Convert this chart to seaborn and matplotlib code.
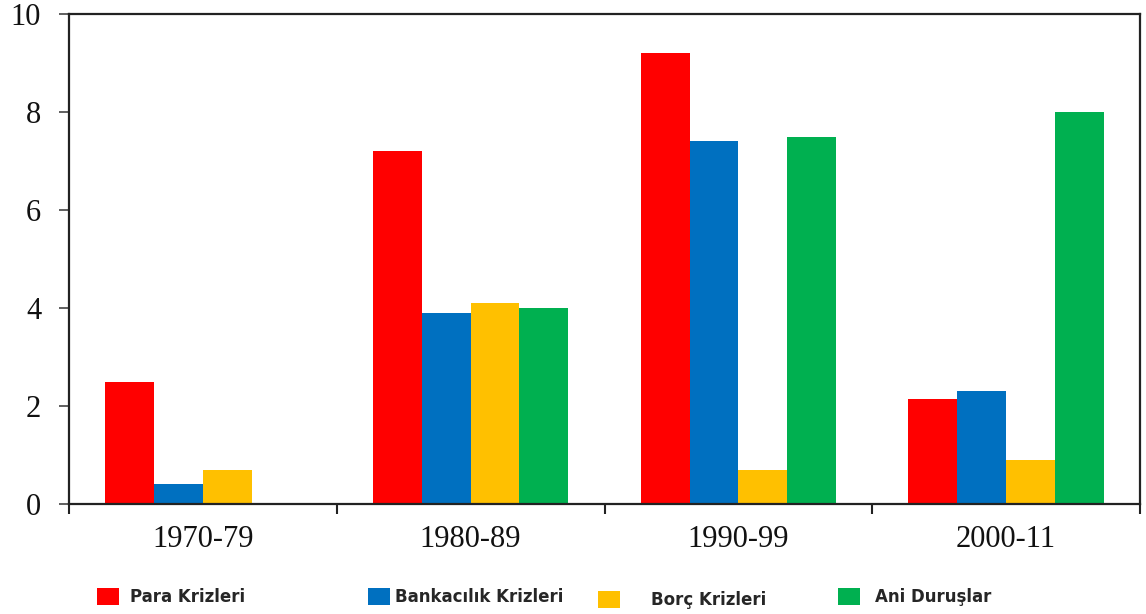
import matplotlib
matplotlib.use("Agg")
import matplotlib.pyplot as plt
from matplotlib.patches import Patch
from matplotlib.ticker import FixedLocator
import seaborn as sns
import pandas as pd

# Crisis frequency by decade
periods = ["1970-79", "1980-89", "1990-99", "2000-11"]
series_names = ["Para Krizleri", "Bankacılık Krizleri", "Borç Krizleri", "Ani Duruşlar"]
para = [2.5, 7.2, 9.2, 2.15]
bankacilik = [0.4, 3.9, 7.4, 2.3]
borc = [0.7, 4.1, 0.7, 0.9]
ani = [0.0, 4.0, 7.5, 8.0]
colors = ["#FF0000", "#0070C0", "#FFC000", "#00B050"]
y_ticks = [0, 2, 4, 6, 8, 10]

rows = []
for name, vals in zip(series_names, [para, bankacilik, borc, ani]):
    for p, v in zip(periods, vals):
        rows.append({"period": p, "kind": name, "value": v})
df = pd.DataFrame(rows)

sns.set_theme(style="white")
plt.rcParams["font.family"] = ["Liberation Serif", "DejaVu Serif"]

fig = plt.figure(figsize=(11.46, 6.14), dpi=100)
ax = fig.add_axes([69 / 1146, 110 / 614, (1140 - 69) / 1146, (504 - 14) / 614])

sns.barplot(data=df, x="period", y="value", hue="kind", order=periods,
            hue_order=series_names, palette=colors, width=0.73,
            saturation=1, linewidth=0, legend=False, ax=ax)

ax.set_xlim(-0.5, len(periods) - 0.5)
ax.set_ylim(0, 10)
ax.set_yticks(y_ticks)
ax.set_yticklabels([str(t) for t in y_ticks])
ax.set_xlabel("")
ax.set_ylabel("")

# Category separators as minor ticks on the x axis
ax.xaxis.set_minor_locator(FixedLocator([i - 0.5 for i in range(len(periods) + 1)]))
ax.tick_params(axis="x", which="major", length=0, pad=15, labelsize=22, colors="#111111")
ax.tick_params(axis="x", which="minor", bottom=True, length=7, width=1.5,
               direction="out", color="#222222")
ax.tick_params(axis="y", which="major", left=True, length=7, width=1.2,
               direction="out", pad=13, labelsize=22, colors="#111111")
ax.tick_params(axis="y", color="#444444")

for side, spine in ax.spines.items():
    spine.set_visible(True)
    spine.set_color("#222222")
    spine.set_linewidth(1.6)

# Legend entries spread along the bottom
legend_pos = [(97, 597, 0.7), (368, 597, 0.3), (598, 600, 1.9), (838, 597, 0.9)]
for name, col, (lx, ly, pad) in zip(series_names, colors, legend_pos):
    fig.legend(handles=[Patch(facecolor=col, edgecolor="none", label=name)],
               loc="center left", bbox_to_anchor=(lx / 1146, 1 - ly / 614),
               frameon=False, borderpad=0, borderaxespad=0,
               handlelength=1.3, handleheight=1.2, handletextpad=pad,
               prop={"family": "DejaVu Sans", "weight": "bold", "size": 12})

fig.savefig("out.png", dpi=100, facecolor="white")
